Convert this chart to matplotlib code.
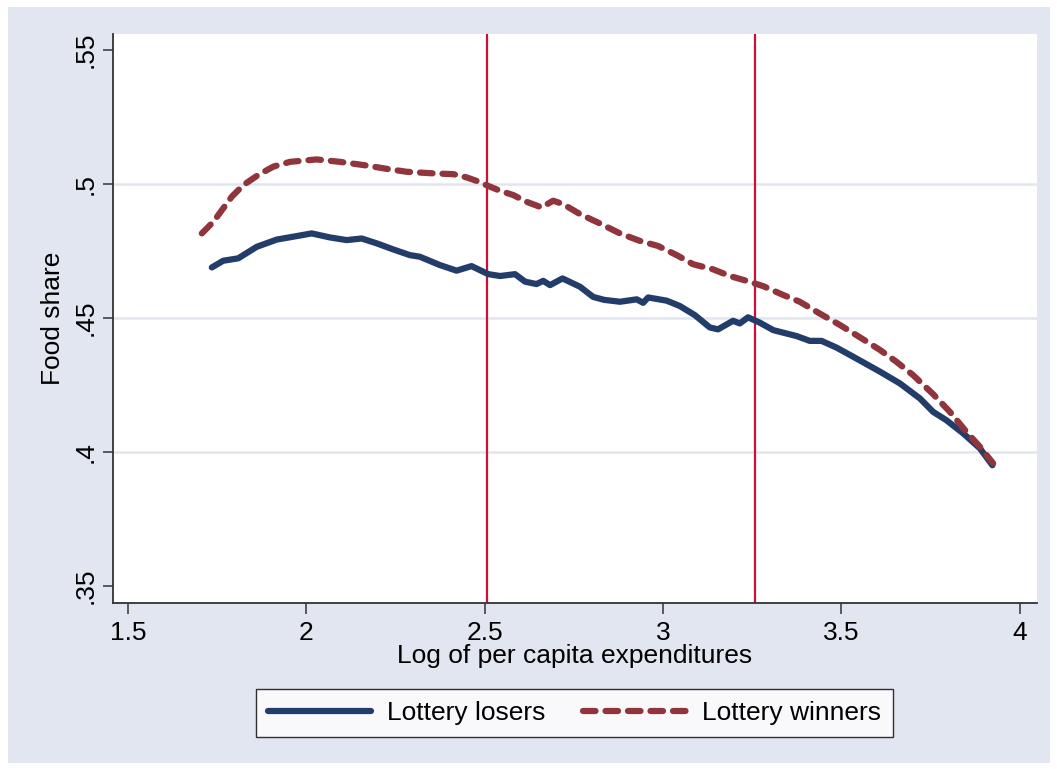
import matplotlib
matplotlib.use("Agg")
import matplotlib.pyplot as plt
from matplotlib.patches import Rectangle

plt.rcParams['font.family'] = ['Liberation Sans', 'DejaVu Sans']

losers_x = [1.735, 1.767, 1.809, 1.861, 1.917, 1.973, 2.015, 2.066, 2.113, 2.155, 2.197,
            2.244, 2.290, 2.318, 2.374, 2.421, 2.463, 2.510, 2.543, 2.585, 2.613, 2.645,
            2.664, 2.683, 2.718, 2.767, 2.804, 2.835, 2.879, 2.926, 2.944, 2.958, 3.010,
            3.047, 3.089, 3.131, 3.154, 3.196, 3.215, 3.238, 3.271, 3.309, 3.374, 3.411,
            3.444, 3.486, 3.542, 3.608, 3.664, 3.720, 3.757, 3.794, 3.841, 3.888, 3.923]
losers_y = [.4689, .4714, .4723, .4766, .4793, .4806, .4816, .4801, .4791, .4797, .4779,
            .4756, .4735, .4729, .4698, .4677, .4694, .4664, .4657, .4664, .4636, .4627,
            .4639, .4623, .4648, .4617, .4579, .4568, .4561, .4570, .4557, .4577, .4565,
            .4545, .4511, .4465, .4458, .4490, .4480, .4503, .4483, .4455, .4433, .4415,
            .4415, .4390, .4349, .4300, .4256, .4200, .4150, .4119, .4070, .4014, .3951]

winners_x = [1.707, 1.739, 1.791, 1.823, 1.865, 1.907, 1.954, 2.029, 2.094, 2.160, 2.234,
             2.281, 2.356, 2.412, 2.449, 2.477, 2.510, 2.543, 2.580, 2.617, 2.659, 2.692,
             2.720, 2.767, 2.823, 2.879, 2.935, 2.986, 3.038, 3.084, 3.140, 3.187, 3.234,
             3.281, 3.337, 3.383, 3.439, 3.496, 3.552, 3.608, 3.654, 3.701, 3.757, 3.804,
             3.850, 3.888, 3.925]
winners_y = [.4816, .4859, .4953, .4996, .5034, .5065, .5083, .5092, .5083, .5071, .5055,
             .5046, .5040, .5037, .5025, .5012, .4993, .4975, .4959, .4934, .4913, .4938,
             .4925, .4888, .4853, .4816, .4788, .4769, .4735, .4701, .4682, .4657, .4639,
             .4619, .4586, .4561, .4517, .4474, .4428, .4381, .4337, .4287, .4216, .4150,
             .4076, .4020, .3958]

vlines_x = [2.506, 3.257]
gridlines_y = [0.40, 0.45, 0.50]
xticks = [1.5, 2, 2.5, 3, 3.5, 4]
xticklabels = ['1.5', '2', '2.5', '3', '3.5', '4']
yticks = [0.35, 0.40, 0.45, 0.50, 0.55]
yticklabels = ['.35', '.4', '.45', '.5', '.55']

W, H = 1057, 769
FS = 19
fig = plt.figure(figsize=(W / 100, H / 100), dpi=100)
fig.patch.set_facecolor('white')
bg = '#E2E6F0'
fig.patches.append(Rectangle((8 / W, 1 - 763 / H), (1050 - 8) / W, (763 - 7) / H,
                             transform=fig.transFigure, facecolor=bg, edgecolor='none', zorder=0))

ax = fig.add_axes([113 / W, 1 - 603 / H, (1037 - 113) / W, (603 - 34) / H])
ax.set_facecolor('white')
ax.set_zorder(1)

for g in gridlines_y:
    ax.axhline(g, color='#E1E5EE', lw=1.8, zorder=1)
for v in vlines_x:
    ax.axvline(v, color='#CC1035', lw=1.6, zorder=2)

ax.plot(losers_x, losers_y, color='#233D6B', lw=4.5, solid_capstyle='round',
        solid_joinstyle='round', label='Lottery losers', zorder=3)
ax.plot(winners_x, winners_y, color='#90353B', lw=4.5, dashes=(2.0, 1.6),
        dash_capstyle='round', label='Lottery winners', zorder=4)

ax.set_xlim(1.458, 4.048)
ax.set_ylim(0.3437, 0.556)
ax.set_xticks(xticks)
ax.set_xticklabels(xticklabels)
ax.set_yticks(yticks)
ax.set_yticklabels(yticklabels, rotation=90, va='center')

for s in ['top', 'right']:
    ax.spines[s].set_visible(False)
for s in ['left', 'bottom']:
    ax.spines[s].set_color('#333333')
    ax.spines[s].set_linewidth(1.3)

ax.tick_params(axis='x', direction='out', length=8, width=1.1, color='#333333',
               labelsize=FS, pad=5)
ax.tick_params(axis='y', direction='out', length=7, width=1.1, color='#333333',
               labelsize=FS, pad=4)

ax.set_xlabel('Log of per capita expenditures', fontsize=FS, labelpad=-1)
ax.set_ylabel('Food share', fontsize=FS, labelpad=6)

leg = ax.legend(loc='center', bbox_to_anchor=(574.5 / W, 1 - 713 / H),
                bbox_transform=fig.transFigure, ncol=2, fontsize=FS, frameon=True,
                fancybox=False, edgecolor='black', handlelength=3.9, handletextpad=0.6,
                columnspacing=1.45, borderpad=0.45, borderaxespad=0)
leg.get_frame().set_linewidth(1.0)

fig.savefig('out.png', dpi=100, facecolor=fig.get_facecolor())
